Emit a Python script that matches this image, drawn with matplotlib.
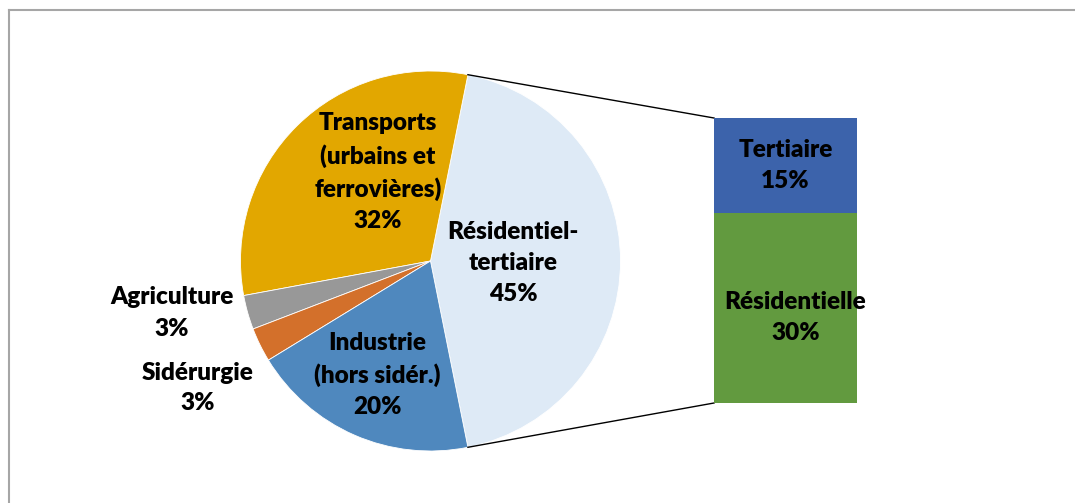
import matplotlib.pyplot as plt
from matplotlib.lines import Line2D
import numpy as np

plt.rcParams['font.family'] = ['Lato', 'DejaVu Sans']

# Pie slices (the first one is split into the bar on the right)
pie_labels = ["Résidentiel-\ntertiaire", "Transports\n(urbains et\nferrovières)",
              "Agriculture", "Sidérurgie", "Industrie\n(hors sidér.)"]
pie_values = [45, 32, 3, 3, 20]
pie_colors = ["#DEEAF6", "#E2A700", "#989898", "#D3702B", "#4F88BE"]

# Breakdown of the Résidentiel-tertiaire share
bar_labels = ["Résidentielle", "Tertiaire"]
bar_values = [30, 15]
bar_colors = ["#629A3F", "#3C63AB"]

W, H = 1075, 503
FS = 17.5
fig = plt.figure(figsize=(W / 100, H / 100), dpi=100)
ax = fig.add_axes([0, 0, 1, 1])

# pie, in pixel coordinates (y up)
cx, cy, r = 430.5, 503 - 261, 190
start = -pie_values[0] / sum(pie_values) * 180
wedges, _ = ax.pie(pie_values, colors=pie_colors, startangle=start, radius=r,
                   center=(cx, cy), frame=True,
                   wedgeprops=dict(edgecolor='white', linewidth=0.6))
ax.set_xlim(0, W)
ax.set_ylim(0, H)
ax.set_aspect('auto')
ax.axis('off')

# label anchors (pixel positions, y down like the picture)
label_pos = [(513, 263), (378, 172), (172, 313), (198, 388), (377, 375)]
for lab, val, (x, y) in zip(pie_labels, pie_values, label_pos):
    ax.text(x, H - y, f"{lab}\n{val}%", ha='center', va='center', fontsize=FS,
            fontweight='heavy', linespacing=1.5, color='black')

# bar of pie
bx0, bx1, by_top, by_bot = 714, 857, 118, 403
bax = fig.add_axes([bx0 / W, (H - by_bot) / H, (bx1 - bx0) / W, (by_bot - by_top) / H])
label_shift = {"Résidentielle": (0.07, -1.5), "Tertiaire": (0, 0)}
bottom = 0
for lab, val, col in zip(bar_labels, bar_values, bar_colors):
    bax.bar(0, val, bottom=bottom, width=1, color=col)
    dx, dy = label_shift[lab]
    bax.text(dx, bottom + val / 2 + dy, f"{lab}\n{val}%", ha='center', va='center',
             fontsize=FS, fontweight='heavy', linespacing=1.5, color='black',
             clip_on=False)
    bottom += val
bax.set_xlim(-0.5, 0.5)
bax.set_ylim(0, sum(bar_values))
bax.axis('off')

# connector lines from the split slice to the bar
w0 = wedges[0]
for ang, by in ((w0.theta2, by_top), (w0.theta1, by_bot)):
    px = cx + r * np.cos(np.radians(ang))
    py = cy + r * np.sin(np.radians(ang))
    ax.plot([px, bx0], [py, H - by], color='black', lw=1)

# chart frame (only top and left visible)
fig.add_artist(Line2D([8.5 / W, 1], [1 - 9.5 / H, 1 - 9.5 / H], color='#A6A6A6', lw=1.5))
fig.add_artist(Line2D([8.5 / W, 8.5 / W], [0, 1 - 9.5 / H], color='#A6A6A6', lw=1.5))

fig.savefig('out.png', dpi=100)
